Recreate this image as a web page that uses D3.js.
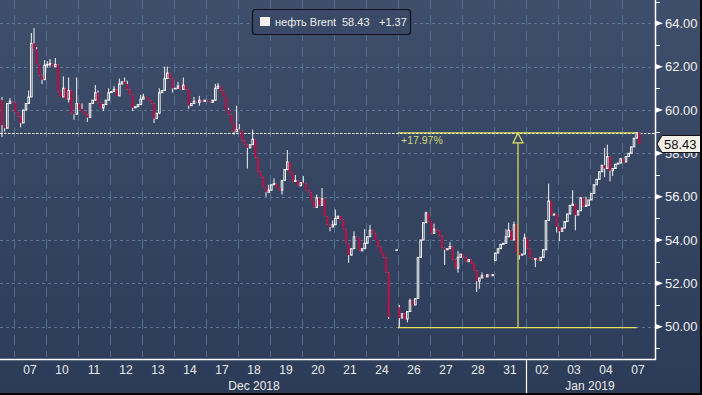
<!DOCTYPE html>
<html lang="ru">
<head>
<meta charset="utf-8">
<title>нефть Brent</title>
<script src="https://cdn.jsdelivr.net/npm/d3@7"></script>
<style>
  html, body { margin: 0; padding: 0; background: #000; }
  svg { display: block; }
  text { font-family: "Liberation Sans", Arial, sans-serif; }
</style>
</head>
<body>
<div id="chart"></div>
<script>
// trading days shown (Dec 6 is only partly visible)
var days = ["06","07","10","11","12","13","14","17","18","19","20","21","24","26","27","28","31","02","03","04","07"];
var monthLabels = ["Dec 2018", "Jan 2019"];
var monthFirstDay = [0, 17];
var monthLastDay = [16, 20];

// bar closes, 12 bars per day (null = no bar)
var firstOpen = 60.46;
var closes = [
  [null,null,null,null,null,null,null,59.3,59.16,60.3,60.4,60.35],
  [59.9,59.7,59.4,60.0,60.3,60.6,63.07,62.8,62.07,61.6,61.4,62.07],
  [62.1,62.15,62.0,62.1,60.85,60.6,61.0,60.5,60.9,59.85,59.8,60.3],
  [60.05,59.95,59.8,59.65,60.3,60.45,60.8,60.35,60.1,60.25,60.45,60.8],
  [60.85,60.95,60.65,61.2,61.3,61.2,60.95,60.7,60.1,60.15,60.25,60.5],
  [60.6,60.55,60.45,60.3,59.6,59.85,60.8,60.9,61.45,61.7,61.45,61.0],
  [61.0,61.1,60.95,61.15,60.95,60.2,60.3,60.4,60.35,60.45,60.4,60.45],
  [60.4,60.35,60.45,61.0,61.1,60.9,60.6,60.0,59.8,59.4,59.0,59.1],
  [59.05,58.6,58.4,58.25,58.4,58.65,57.8,57.15,56.9,56.45,56.2,56.3],
  [56.55,56.6,56.4,56.3,56.75,57.25,57.6,57.1,56.7,56.75,56.5,56.65],
  [56.6,56.3,56.2,55.8,55.5,55.95,55.6,55.9,55.1,54.7,54.6,54.7],
  [55.0,55.1,54.95,54.5,53.85,53.3,53.6,54.15,54.1,53.5,53.6,53.85],
  [54.15,54.45,54.3,54.0,53.7,53.4,53.2,52.5,50.45,null,null,53.55],
  [50.4,50.6,50.35,50.7,51.2,51.0,51.3,53.2,54.0,54.8,55.25,54.85],
  [54.3,54.5,54.45,54.2,53.65,53.55,53.6,53.7,53.1,52.7,53.2,53.35],
  [53.2,53.0,53.1,52.9,52.6,52.1,52.25,52.35,52.3,52.4,52.35,52.4],
  [53.4,53.6,53.8,53.85,54.15,54.45,54.0,54.7,53.4,53.3,53.35,54.1],
  [53.6,53.2,53.1,53.15,53.05,53.2,53.55,54.9,55.8,55.15,55.2,54.6],
  [54.4,54.55,54.85,55.2,55.6,55.65,55.15,55.35,55.95,55.55,55.6,55.85],
  [56.15,56.55,56.8,57.15,57.45,57.3,57.85,57.2,57.3,57.5,57.55,57.75],
  [57.6,57.85,58.0,58.3,58.7,58.95,58.43,null,null,null,null,null]
];
// bars that do not open at the previous close: [day, bar, open]
var gapOpens = [[12,11,53.55],[13,0,50.9],[16,0,53.05]];
// wick extremes: [day, bar, high, low]
var wicks = [
  [0,7,60.6,58.75],[0,8,null,59.0],[0,10,60.55,null],
  [1,2,null,59.2],[1,5,60.9,60.4],[1,6,63.55,null],[1,7,63.78,null],[1,8,62.9,null],[1,10,null,61.2],[1,11,62.3,null],
  [2,0,62.25,61.95],[2,1,62.35,62.0],[2,3,62.4,null],[2,6,61.55,null],[2,8,61.5,60.35],[2,10,null,59.55],[2,11,61.5,null],
  [3,1,60.3,null],[3,3,null,59.45],[3,6,61.15,null],[3,7,60.9,null],[3,9,null,59.95],[3,11,61.0,null],
  [4,1,61.1,null],[4,3,61.45,null],[4,5,61.5,null],[4,6,61.35,null],[4,8,null,59.95],[4,11,60.7,null],
  [5,0,60.75,null],[5,4,null,59.4],[5,6,61.0,null],[5,8,62.0,null],[5,9,62.0,null],[5,11,null,60.8],
  [6,1,61.3,null],[6,3,61.5,null],[6,5,null,60.05],[6,7,60.6,null],[6,9,60.65,60.2],
  [7,3,61.2,null],[7,4,61.25,null],[7,8,60.1,null],[7,10,null,58.85],[7,11,60.2,null],
  [8,0,59.35,null],[8,3,null,57.3],[8,5,59.1,null],[8,10,null,56.0],[8,11,56.55,null],
  [9,1,56.85,null],[9,4,null,56.1],[9,6,58.15,null],[9,9,57.0,null],
  [10,0,56.95,null],[10,5,56.1,null],[10,7,56.4,null],[10,10,null,54.4],[10,11,54.9,null],
  [11,0,55.4,null],[11,5,null,52.95],[11,7,54.4,null],[11,11,54.5,null],
  [12,1,54.7,null],[12,8,null,50.35],
  [13,0,51.0,49.96],[13,3,null,50.2],[13,4,51.3,null],[13,10,55.3,null],
  [14,1,54.75,null],[14,5,null,52.85],[14,7,53.9,null],[14,10,53.5,52.5],
  [15,5,null,51.6],[15,6,null,51.75],[15,7,52.5,null],
  [16,4,54.5,null],[16,5,54.8,null],[16,7,54.85,null],[16,9,null,53.1],[16,11,54.3,null],
  [17,3,null,52.75],[17,8,56.6,null],[17,11,null,54.35],
  [18,0,null,53.95],[18,5,56.3,null],[18,6,null,54.45],[18,10,56.0,null],
  [19,5,58.25,56.9],[19,6,58.4,null],[19,7,null,56.7],[19,8,null,56.95],
  [20,5,58.97,null]
];

var yMajor = [50,52,54,56,58,60,62,64];
var yMinor = [49,51,53,55,57,59,61,63,65];
var lastPrice = 58.43;
var change = "+1.37";
var highLine = 58.94;
var rangeLow = 49.96, rangeHigh = 58.94;

var width = 700, height = 393;
var plotR = 655, plotB = 359;
var perDay = 12;

var svg = d3.select("#chart").append("svg")
    .attr("width", width)
    .attr("height", height);

var defs = svg.append("defs");
var grad = defs.append("linearGradient")
    .attr("id", "bg")
    .attr("gradientUnits", "userSpaceOnUse")
    .attr("x1", 0).attr("y1", 0).attr("x2", 0).attr("y2", height);
grad.append("stop").attr("offset", 0).attr("stop-color", "#3f4e6a");
grad.append("stop").attr("offset", 1).attr("stop-color", "#2c3b57");
defs.append("clipPath").attr("id", "plot")
  .append("rect").attr("width", plotR).attr("height", plotB);

svg.append("rect").attr("width", width).attr("height", height).attr("fill", "url(#bg)");

var x = d3.scaleBand().domain(d3.range(days.length)).range([-18, 654]);
var y = d3.scaleLinear().domain([50, 64]).range([326.7, 23.3]);
function slotX(d, k) { return x(d) + (k + 0.5) * x.bandwidth() / perDay; }

// grid
var grid = svg.append("g").attr("clip-path", "url(#plot)");
grid.selectAll(".hg").data(yMajor).enter().append("line")
    .attr("x1", 0).attr("x2", plotR)
    .attr("y1", function(d) { return Math.round(y(d)) + 0.5; })
    .attr("y2", function(d) { return Math.round(y(d)) + 0.5; })
    .attr("stroke", "#5d7595").attr("stroke-dasharray", "3,3");
grid.selectAll(".vg").data(d3.range(1, days.length)).enter().append("line")
    .attr("x1", function(d) { return Math.round(x(d)) + 0.5; })
    .attr("x2", function(d) { return Math.round(x(d)) + 0.5; })
    .attr("y1", 0).attr("y2", 357)
    .attr("stroke", "#54708f").attr("stroke-dasharray", "9.5,6.5").attr("stroke-dashoffset", 0.7);

// white dotted line
grid.append("line")
    .attr("x1", 0).attr("x2", plotR)
    .attr("y1", Math.round(y(highLine)) + 0.5).attr("y2", Math.round(y(highLine)) + 0.5)
    .attr("stroke", "#fff").attr("stroke-dasharray", "2.5,1.5");

// build bars
var candles = [];
var prev = firstOpen;
closes.forEach(function(row, d) {
  row.forEach(function(c, k) {
    if (c === null) return;
    var o = prev;
    gapOpens.forEach(function(g) { if (g[0] === d && g[1] === k) o = g[2]; });
    candles.push({d: d, k: k, o: o, c: c, h: Math.max(o, c), l: Math.min(o, c)});
    prev = c;
  });
});
wicks.forEach(function(w) {
  var cd = candles.find(function(q) { return q.d === w[0] && q.k === w[1]; });
  if (!cd) return;
  if (w[2] !== null) cd.h = Math.max(cd.h, w[2]);
  if (w[3] !== null) cd.l = Math.min(cd.l, w[3]);
});

var bars = svg.append("g").attr("clip-path", "url(#plot)");
bars.selectAll(".wick").data(candles).enter().append("line")
    .attr("x1", function(d) { return slotX(d.d, d.k); })
    .attr("x2", function(d) { return slotX(d.d, d.k); })
    .attr("y1", function(d) { return y(d.h); })
    .attr("y2", function(d) { return y(d.l); })
    .attr("stroke", "#f4f4f4").attr("stroke-width", 1);

bars.selectAll(".up").data(candles.filter(function(d) { return d.c >= d.o; })).enter().append("rect")
    .attr("x", function(d) { return slotX(d.d, d.k) - 0.8; })
    .attr("width", 1.6)
    .attr("y", function(d) { return y(d.c); })
    .attr("height", function(d) { return Math.max(0.6, y(d.o) - y(d.c)); })
    .attr("fill", "url(#bg)")
    .attr("stroke", "#f6f6f6").attr("stroke-width", 1);

bars.selectAll(".down").data(candles.filter(function(d) { return d.c < d.o; })).enter().append("rect")
    .attr("x", function(d) { return slotX(d.d, d.k) - 1.3; })
    .attr("width", 2.6)
    .attr("y", function(d) { return y(d.o); })
    .attr("height", function(d) { return Math.max(1, y(d.c) - y(d.o)); })
    .attr("fill", "#a3194a");

// range annotation
var yel = "#e2e05e";
var ax0 = x(13), ax1 = slotX(20, 5), arrowX = slotX(16, 8.5);
var yLo = y(rangeLow), yHi = y(rangeHigh);
var ann = svg.append("g").attr("stroke", yel).attr("fill", "none").attr("stroke-width", 1.2);
ann.append("line").attr("x1", ax0).attr("x2", ax1).attr("y1", yLo).attr("y2", yLo);
ann.append("line").attr("x1", ax0).attr("x2", ax1).attr("y1", yHi).attr("y2", yHi);
ann.append("line").attr("x1", arrowX).attr("x2", arrowX).attr("y1", yLo).attr("y2", yHi + 10);
ann.append("path")
    .attr("d", "M" + arrowX + "," + yHi + "L" + (arrowX + 5) + "," + (yHi + 10) + "L" + (arrowX - 5) + "," + (yHi + 10) + "Z");
svg.append("text")
    .attr("x", ax0 + 3).attr("y", yHi + 11)
    .attr("font-size", 10.5).attr("fill", "#d3d87e")
    .text("+" + ((rangeHigh / rangeLow - 1) * 100).toFixed(2) + "%");

// axes
svg.append("line").attr("x1", 0).attr("x2", plotR + 1).attr("y1", plotB + 0.5).attr("y2", plotB + 0.5)
    .attr("stroke", "#fff").attr("stroke-width", 1.5);
svg.append("line").attr("x1", plotR + 0.5).attr("x2", plotR + 0.5).attr("y1", 0).attr("y2", plotB + 1)
    .attr("stroke", "#fff").attr("stroke-width", 1.5);

var yp = y(lastPrice);
var right = svg.append("g");
right.selectAll(".mt").data(yMinor).enter().append("line")
    .attr("x1", plotR).attr("x2", plotR + 5)
    .attr("y1", function(d) { return Math.round(y(d)) + 0.5; })
    .attr("y2", function(d) { return Math.round(y(d)) + 0.5; })
    .attr("stroke", "#fff");
right.selectAll(".tri").data(yMajor).enter().append("path")
    .attr("d", function(d) { var v = y(d); return "M" + plotR + "," + (v - 3) + "L" + (plotR + 8) + "," + v + "L" + plotR + "," + (v + 3) + "Z"; })
    .attr("fill", "#fff");
// the label under the price tag only shows its lower part
defs.append("clipPath").attr("id", "belowTag")
  .append("rect").attr("x", 656).attr("y", yp + 9).attr("width", 46).attr("height", 20);
right.selectAll(".yl").data(yMajor).enter().append("text")
    .attr("x", 665).attr("y", function(d) { return y(d) + 4.7; })
    .attr("font-size", 13).attr("fill", "#f2f2f2")
    .attr("clip-path", function(d) { return Math.abs(y(d) - yp) < 14 ? "url(#belowTag)" : null; })
    .text(function(d) { return d3.format(".2f")(d); });

svg.selectAll(".dl").data(d3.range(1, days.length)).enter().append("text")
    .attr("x", function(d) { return x(d) + x.bandwidth() / 2; })
    .attr("y", 373.5)
    .attr("text-anchor", "middle").attr("font-size", 12).attr("fill", "#ececec")
    .text(function(d) { return days[d]; });
svg.selectAll(".ml").data(monthLabels).enter().append("text")
    .attr("x", function(d, i) { return (x(monthFirstDay[i]) + x(monthLastDay[i]) + x.bandwidth()) / 2; })
    .attr("y", 389.5)
    .attr("text-anchor", "middle").attr("font-size", 12).attr("fill", "#ececec")
    .text(function(d) { return d; });
svg.append("line")
    .attr("x1", Math.round(x(monthFirstDay[1])) + 0.5).attr("x2", Math.round(x(monthFirstDay[1])) + 0.5)
    .attr("y1", plotB).attr("y2", height)
    .attr("stroke", "#fff").attr("stroke-width", 1.2);

// last price tag
svg.append("path")
    .attr("d", "M657," + yp + "L662," + (yp - 8.5) + "L701," + (yp - 8.5) + "L701," + (yp + 8.5) + "L662," + (yp + 8.5) + "Z")
    .attr("fill", "#f3f0ea").attr("stroke", "#111").attr("stroke-width", 1);
svg.append("text")
    .attr("x", 664).attr("y", yp + 4.8)
    .attr("font-size", 13).attr("fill", "#111")
    .text(d3.format(".2f")(lastPrice));

// legend
var lg = svg.append("g");
lg.append("rect").attr("x", 252.5).attr("y", 9.5).attr("width", 158).attr("height", 25).attr("rx", 3)
    .attr("fill", "#3a4966").attr("stroke", "#0f1218").attr("stroke-width", 1.2);
lg.append("rect").attr("x", 260).attr("y", 17).attr("width", 10).attr("height", 9).attr("fill", "#f6f0ee");
lg.append("text").attr("x", 275).attr("y", 26).attr("font-size", 11).attr("fill", "#eeeeee").text("нефть Brent");
lg.append("text").attr("x", 342).attr("y", 26).attr("font-size", 11).attr("fill", "#eeeeee").text(d3.format(".2f")(lastPrice));
lg.append("text").attr("x", 379).attr("y", 26).attr("font-size", 11).attr("fill", "#eeeeee").text(change);
</script>
</body>
</html>
